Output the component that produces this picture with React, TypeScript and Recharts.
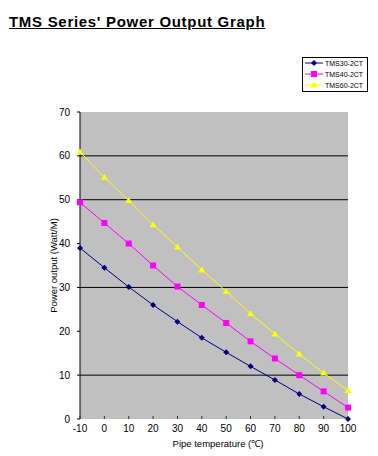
import React from "react";
import {
  LineChart,
  Line,
  XAxis,
  YAxis,
  CartesianGrid,
  ReferenceLine,
  Label,
} from "recharts";

// pipe temperature (°C)
const temps = [-10, 0, 10, 20, 30, 40, 50, 60, 70, 80, 90, 100];
// power output (Watt/M)
const tms30 = [39.0, 34.5, 30.1, 26.0, 22.2, 18.5, 15.2, 12.0, 8.9, 5.7, 2.8, 0];
const tms40 = [49.4, 44.7, 40.0, 35.0, 30.2, 26.0, 21.9, 17.7, 13.8, 10.0, 6.3, 2.6];
const tms60 = [60.9, 55.1, 49.8, 44.3, 39.2, 34.0, 29.1, 24.0, 19.4, 14.8, 10.5, 6.5];

const yTicks = [0, 10, 20, 30, 40, 50, 60, 70];
const gridValues = [10, 30, 50, 60];

const seriesNames = ["TMS30-2CT", "TMS40-2CT", "TMS60-2CT"];

const data = temps.map((t, i) => ({
  t,
  tms30: tms30[i],
  tms40: tms40[i],
  tms60: tms60[i],
}));

const FONT = "'Liberation Sans', Arial, sans-serif";

const NAVY = "#000080";
const MAGENTA = "#FF00FF";
const YELLOW = "#FFFF00";

const marker = (kind: string, cx: number, cy: number, color: string, key?: React.Key) => {
  if (kind === "diamond") {
    return (
      <polygon
        key={key}
        points={`${cx},${cy - 3} ${cx + 3},${cy} ${cx},${cy + 3} ${cx - 3},${cy}`}
        fill={color}
      />
    );
  }
  if (kind === "square") {
    return <rect key={key} x={cx - 3} y={cy - 3} width={6} height={6} fill={color} />;
  }
  return (
    <polygon
      key={key}
      points={`${cx},${cy - 3.5} ${cx + 3.5},${cy + 2.5} ${cx - 3.5},${cy + 2.5}`}
      fill={color}
    />
  );
};

const makeDot = (kind: string, color: string) => (props: any) =>
  marker(kind, props.cx, props.cy, color, `${kind}-${props.index}`);

const XTick = (props: any) => {
  const { x, y, payload } = props;
  return (
    <g>
      <line x1={x} x2={x} y1={y - 3} y2={y} stroke="#333" />
      <text x={x} y={y + 13} textAnchor="middle" fontSize={10} fontFamily={FONT} fill="#000">
        {payload.value}
      </text>
    </g>
  );
};

const YTick = (props: any) => {
  const { x, y, payload } = props;
  return (
    <text x={x} y={y + 3.5} textAnchor="end" fontSize={10} fontFamily={FONT} fill="#000">
      {payload.value}
    </text>
  );
};

const legendItems = [
  { name: seriesNames[0], color: NAVY, kind: "diamond" },
  { name: seriesNames[1], color: MAGENTA, kind: "square" },
  { name: seriesNames[2], color: YELLOW, kind: "triangle" },
];

export default function App() {
  return (
    <div
      style={{
        position: "absolute",
        left: 0,
        top: 0,
        width: 378,
        height: 456,
        background: "#fff",
      }}
    >
      <div
        style={{
          position: "absolute",
          left: 9,
          top: 13,
          fontFamily: FONT,
          fontWeight: "bold",
          fontSize: 15,
          letterSpacing: 0.7,
          lineHeight: "17px",
          textDecoration: "underline",
          color: "#000",
          whiteSpace: "nowrap",
        }}
      >
        TMS Series' Power Output Graph
      </div>

      <svg
        width={66}
        height={35}
        style={{ position: "absolute", left: 302, top: 57 }}
      >
        <rect x={0.5} y={0.5} width={65} height={34} fill="#fff" stroke="#000" />
        {legendItems.map((it, i) => {
          const cy = 6 + i * 11;
          return (
            <g key={it.name}>
              <line x1={3} x2={21} y1={cy} y2={cy} stroke={it.color} strokeWidth={1} />
              {marker(it.kind, 12, cy, it.color)}
              <text x={23} y={cy + 2.5} fontSize={7} fontFamily={FONT} fill="#000">
                {it.name}
              </text>
            </g>
          );
        })}
      </svg>

      <div style={{ position: "absolute", left: 0, top: 0 }}>
        <LineChart
          width={378}
          height={456}
          data={data}
          margin={{ top: 112, right: 30, bottom: 0, left: 0 }}
        >
          <CartesianGrid horizontal={false} vertical={false} fill="#C0C0C0" stroke="none" />
          {gridValues.map((v) => (
            <ReferenceLine key={v} y={v} stroke="#000" strokeWidth={1} />
          ))}
          <XAxis
            dataKey="t"
            type="number"
            domain={[-10, 100]}
            ticks={temps}
            interval={0}
            height={37}
            axisLine={false}
            tickLine={false}
            tickSize={0}
            tickMargin={0}
            tick={<XTick />}
          >
            <Label
              content={(p: any) => {
                const vb = p.viewBox;
                return (
                  <text
                    x={vb.x + vb.width / 2 + 4}
                    y={447}
                    textAnchor="middle"
                    fontSize={9.5}
                    fontFamily={FONT}
                    fill="#000"
                  >
                    Pipe temperature (℃)
                  </text>
                );
              }}
            />
          </XAxis>
          <YAxis
            domain={[0, 70]}
            ticks={yTicks}
            interval={0}
            width={80}
            axisLine={{ stroke: "#000" }}
            tickLine={{ stroke: "#000" }}
            tickSize={3}
            tickMargin={7}
            tick={<YTick />}
          >
            <Label
              content={(p: any) => {
                const vb = p.viewBox;
                const cy = vb.y + vb.height / 2;
                return (
                  <text
                    x={57}
                    y={cy}
                    transform={`rotate(-90 57 ${cy})`}
                    textAnchor="middle"
                    fontSize={9.5}
                    fontFamily={FONT}
                    fill="#000"
                  >
                    Power output (Watt/M)
                  </text>
                );
              }}
            />
          </YAxis>
          <Line
            dataKey="tms30"
            name={seriesNames[0]}
            stroke={NAVY}
            strokeWidth={1}
            dot={makeDot("diamond", NAVY)}
            isAnimationActive={false}
          />
          <Line
            dataKey="tms40"
            name={seriesNames[1]}
            stroke={MAGENTA}
            strokeWidth={1}
            dot={makeDot("square", MAGENTA)}
            isAnimationActive={false}
          />
          <Line
            dataKey="tms60"
            name={seriesNames[2]}
            stroke={YELLOW}
            strokeWidth={1}
            dot={makeDot("triangle", YELLOW)}
            isAnimationActive={false}
          />
        </LineChart>
      </div>
    </div>
  );
}
